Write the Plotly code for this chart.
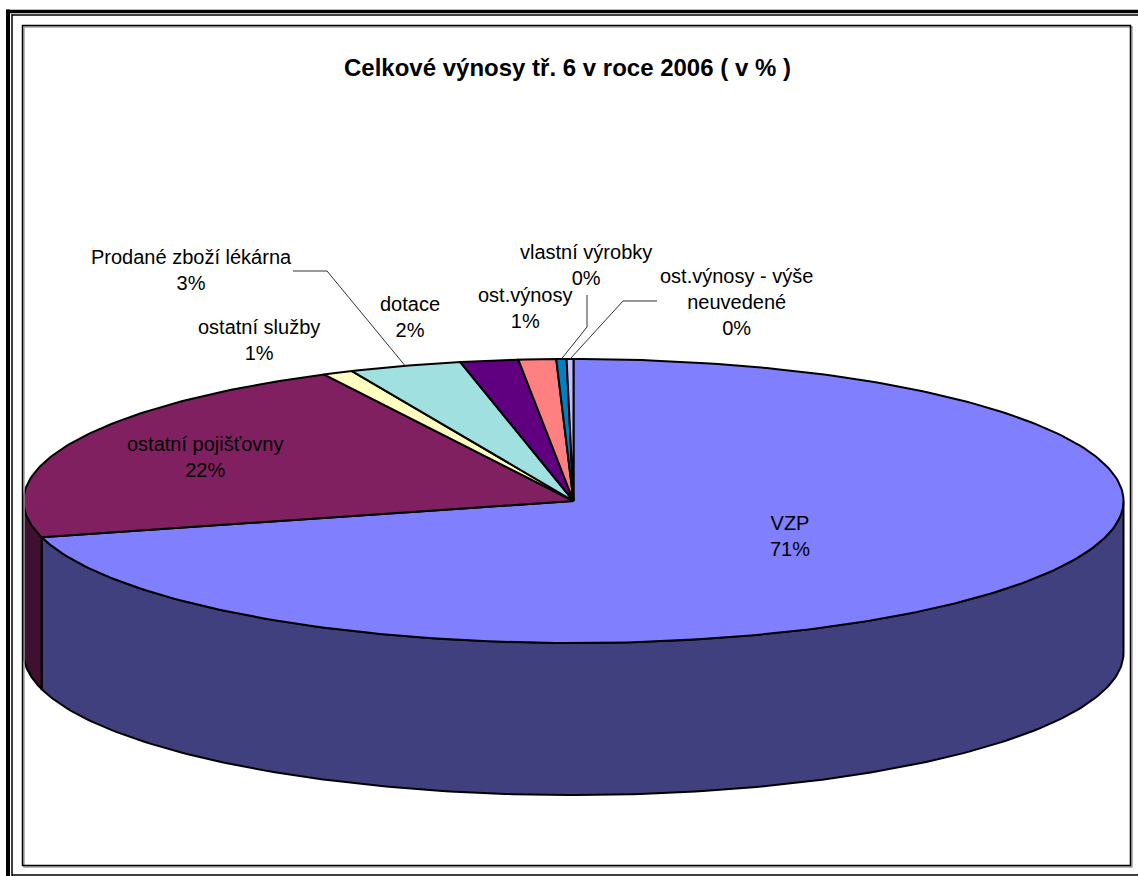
import numpy as np
import plotly.graph_objects as go

# ---------------- data ----------------
categories = ["VZP", "ostatní pojišťovny", "ostatní služby", "Prodané zboží lékárna",
              "dotace", "ost.výnosy", "vlastní výrobky", "ost.výnosy - výše<br>neuvedené"]
values = [70.9, 21.6, 0.9, 3.3, 1.7, 1.1, 0.3, 0.2]
top_colors = ["#8080FF", "#802060", "#FFFFC0", "#A0E0E0", "#600080", "#FF8080", "#0080C0", "#C0C0FF"]
title_text = "Celkové výnosy tř. 6 v roce 2006 ( v % )"

# ---------------- layout geometry (pixels) ----------------
W, H = 1138, 876
cx, cy, rx, ry, depth = 573.5, 501, 550, 142, 152
label_pos = [(790, 536), (205, 457), (259, 340), (191, 270), (410, 317), (525, 308), (586, 265), (736, 302)]
# elbow points for leader lines (None = no leader)
leader_elbows = [None, None, None, [(293, 271), (327, 271)], None, None,
                 [(587, 295), (587, 327)], [(657, 301), (623, 301)]]

def darken(hexc, f=0.5):
    h = hexc.lstrip("#")
    r, g, b = (int(h[i:i + 2], 16) for i in (0, 2, 4))
    return "#%02X%02X%02X" % (int(r * f), int(g * f), int(b * f))

def pt(t, dy=0.0):
    return cx + rx * np.sin(t), cy - ry * np.cos(t) + dy

total = sum(values)
cum = np.concatenate([[0], np.cumsum(values)]) / total * 2 * np.pi

fig = go.Figure()

# side walls (front half only: pi/2 .. 3pi/2)
for i, v in enumerate(values):
    a, b = cum[i], cum[i + 1]
    lo, hi = max(a, np.pi / 2), min(b, 3 * np.pi / 2)
    if hi <= lo:
        continue
    t = np.linspace(lo, hi, 200)
    xt, yt = pt(t)
    xb, yb = pt(t[::-1], depth)
    xs = np.concatenate([xt, xb, [xt[0]]])
    ys = np.concatenate([yt, yb, [yt[0]]])
    fig.add_trace(go.Scatter(x=xs, y=ys, mode="lines", fill="toself",
                             fillcolor=darken(top_colors[i]),
                             line=dict(color="black", width=2),
                             hoverinfo="skip", showlegend=False))

# top faces
for i, v in enumerate(values):
    a, b = cum[i], cum[i + 1]
    n = max(3, int(400 * (b - a) / (2 * np.pi)) + 3)
    t = np.linspace(a, b, n)
    xt, yt = pt(t)
    xs = np.concatenate([[cx], xt, [cx]])
    ys = np.concatenate([[cy], yt, [cy]])
    fig.add_trace(go.Scatter(x=xs, y=ys, mode="lines", fill="toself",
                             fillcolor=top_colors[i],
                             line=dict(color="black", width=2),
                             hoverinfo="skip", showlegend=False))

# leader lines
for i, el in enumerate(leader_elbows):
    if el is None:
        continue
    mid = (cum[i] + cum[i + 1]) / 2
    ex, ey = pt(mid)
    xs = [p[0] for p in el] + [ex]
    ys = [p[1] for p in el] + [ey]
    fig.add_trace(go.Scatter(x=xs, y=ys, mode="lines",
                             line=dict(color="#303030", width=1),
                             hoverinfo="skip", showlegend=False))

# labels
annotations = []
for i, c in enumerate(categories):
    pct = int(round(values[i] / total * 100))
    annotations.append(dict(x=label_pos[i][0], y=label_pos[i][1], xref="x", yref="y",
                            text=f"{c}<br>{pct}%", showarrow=False,
                            xanchor="center", yanchor="middle", align="center",
                            font=dict(family="Arial, Liberation Sans", size=20, color="black")))
annotations.append(dict(x=567, y=67, xref="x", yref="y", text=f"<b>{title_text}</b>",
                        showarrow=False, xanchor="center", yanchor="middle",
                        font=dict(family="Arial, Liberation Sans", size=24, color="black")))

shapes = [
    # outer frame
    dict(type="line", xref="x", yref="y", x0=8, x1=8, y0=9.5, y1=876, line=dict(color="black", width=4)),
    dict(type="line", xref="x", yref="y", x0=12, x1=12, y0=14, y1=876, line=dict(color="black", width=1.5)),
    dict(type="line", xref="x", yref="y", x0=6, x1=1138, y0=11.5, y1=11.5, line=dict(color="black", width=3.5)),
    dict(type="line", xref="x", yref="y", x0=12, x1=1138, y0=15, y1=15, line=dict(color="black", width=1.5)),
    dict(type="line", xref="x", yref="y", x0=12, x1=1138, y0=875, y1=875, line=dict(color="black", width=1.5)),
    # inner chart area with shadow
    dict(type="rect", xref="x", yref="y", x0=24, x1=1132, y0=27, y1=867, line=dict(color="#A0A0A0", width=1.5)),
    dict(type="rect", xref="x", yref="y", x0=22.5, x1=1130.5, y0=25.5, y1=865.5, line=dict(color="black", width=1.5)),
]

fig.update_layout(
    width=W, height=H, margin=dict(l=0, r=0, t=0, b=0),
    paper_bgcolor="white", plot_bgcolor="white",
    xaxis=dict(range=[0, W], visible=False, fixedrange=True),
    yaxis=dict(range=[H, 0], visible=False, fixedrange=True),
    annotations=annotations, shapes=shapes, showlegend=False,
)

fig.write_html("out.html", config={"displayModeBar": False},
               post_script="document.body.style.margin='0px';document.body.style.overflow='hidden';")
